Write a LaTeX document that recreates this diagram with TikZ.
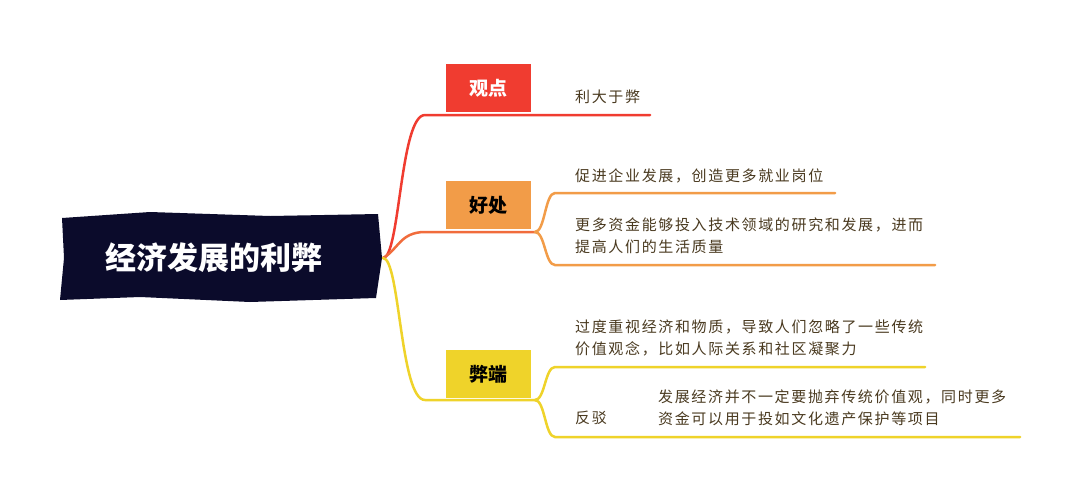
\documentclass[tikz,border=0pt]{standalone}
\usepackage{fontspec}
\setmainfont{Noto Sans CJK SC}
\newfontfamily\spaced[LetterSpace=11]{Noto Sans CJK SC}
\usetikzlibrary{calc}
\definecolor{navy}{HTML}{0B0B2B}
\definecolor{cred}{HTML}{F03C30}
\definecolor{corange}{HTML}{F29C48}
\definecolor{cyellow}{HTML}{EFD32A}
\definecolor{ctext}{HTML}{4A3A20}
\begin{document}
\begin{tikzpicture}[x=1pt, y=-1pt, line cap=round,
    tag/.style = {minimum width=85pt, minimum height=48pt, font=\bfseries\fontsize{19}{19}\selectfont, inner sep=0pt},
    leaf/.style = {anchor=west, align=left, text=ctext, font=\spaced\fontsize{15}{22}\selectfont, inner sep=0pt},
    bar/.style = {line width=2.5pt}]
  \useasboundingbox[fill=white] (0,0) rectangle (1080,499);
  % root
  \fill[navy] (62,218) -- (150,212) -- (270,216) -- (378,214) -- (382,258) -- (376,298) -- (250,302) -- (140,297) -- (60,300) -- (64,258) -- cycle;
  \node[text=white, font=\bfseries\fontsize{31}{31}\selectfont] (root) at (214,258) {经济发展的利弊};
  \coordinate (rootR) at (383,258);
  % tags
  \node[tag, fill=cred, text=white] (view) at (488,88) {观点};
  \node[tag, fill=corange] (good) at (488,205) {好处};
  \node[tag, fill=cyellow] (bad) at (488,374) {弊端};
  % main branches
  \draw[bar, cred] (rootR) .. controls (400,258) and (400,115) .. (425,115) -- (650,115);
  \draw[bar, cred!50!corange] (rootR) .. controls (398,250) and (400,232) .. (425,232) -- (535,232);
  \draw[bar, cyellow] (rootR) .. controls (400,258) and (400,400) .. (425,400) -- (535,400);
  % 观点
  \node[leaf] (v1) at (575,97) {利大于弊};
  % 好处
  \node[leaf] (g1) at (575,176) {促进企业发展，创造更多就业岗位};
  \node[leaf] (g2) at (575,236) {更多资金能够投入技术领域的研究和发展，进而\\提高人们的生活质量};
  \coordinate (g1e) at (835,193);
  \coordinate (g2e) at (935,265);
  \draw[bar, corange] (535,232) .. controls (545,232) and (545,193) .. (555,193) -- (g1e);
  \draw[bar, corange] (535,232) .. controls (545,232) and (545,265) .. (555,265) -- (g2e);
  % 弊端
  \node[leaf] (b1) at (575,338) {过度重视经济和物质，导致人们忽略了一些传统\\价值观念，比如人际关系和社区凝聚力};
  \node[leaf] (b2) at (575,418) {反驳};
  \node[leaf] (b3) at (658,408) {发展经济并不一定要抛弃传统价值观，同时更多\\资金可以用于投如文化遗产保护等项目};
  \coordinate (b1e) at (925,367);
  \coordinate (b2m) at (640,437);
  \coordinate (b3e) at (1020,437);
  \draw[bar, cyellow] (535,400) .. controls (545,400) and (545,367) .. (555,367) -- (b1e);
  \draw[bar, cyellow] (535,400) .. controls (545,400) and (545,437) .. (555,437) -- (b2m) -- (b3e);
\end{tikzpicture}
\end{document}
